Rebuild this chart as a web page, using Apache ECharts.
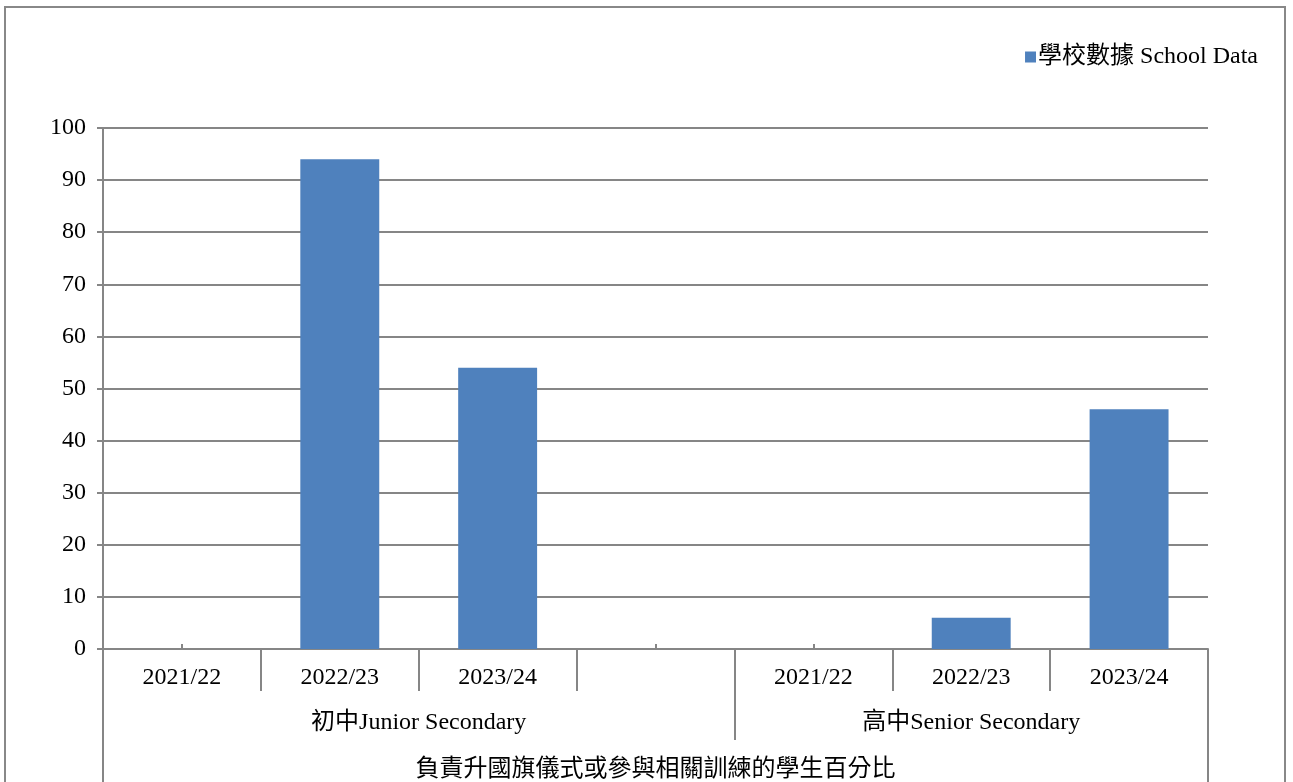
<!DOCTYPE html>
<html>
<head>
<meta charset="utf-8">
<script src="https://cdn.jsdelivr.net/npm/echarts@6/dist/echarts.min.js"></script>
<style>
  html, body { margin: 0; padding: 0; background: #fff; }
  #frame { position: absolute; left: 4px; top: 6px; width: 1282px; height: 800px; border: 2px solid #888; box-sizing: border-box; }
  #chart { position: absolute; left: 0; top: 0; width: 1293px; height: 782px; }
</style>
</head>
<body>
<div id="frame"></div>
<div id="chart"></div>
<script>
const categories = ['2021/22', '2022/23', '2023/24', '', '2021/22', '2022/23', '2023/24'];
const schoolData = [0, 94, 54, null, 0, 6, 46];
const groupLabels = ['初中Junior Secondary', '高中Senior Secondary'];
const groupSizes = [4, 3];
const axisTitle = '負責升國旗儀式或參與相關訓練的學生百分比';
const seriesName = '學校數據 School Data';
const yTicks = [0, 10, 20, 30, 40, 50, 60, 70, 80, 90, 100];

const n = categories.length;
const groupEdges = [0];
groupSizes.forEach(s => groupEdges.push(groupEdges[groupEdges.length - 1] + s));
const groupCenters = groupSizes.map((s, i) => groupEdges[i] + s / 2);
const innerEdges = [];
for (let i = 1; i < n; i++) if (groupEdges.indexOf(i) < 0) innerEdges.push(i);
const midGroupEdges = groupEdges.slice(1, -1);

const FONT = "'Liberation Serif', 'Noto Sans CJK TC', serif";
const GRAY = '#868686';
const txt = { color: '#000', fontFamily: FONT, fontSize: 24 };

const chart = echarts.init(document.getElementById('chart'), null, { renderer: 'canvas' });
chart.setOption({
  backgroundColor: 'transparent',
  animation: false,
  legend: {
    right: 30, top: 40,
    icon: 'rect', itemWidth: 11, itemHeight: 11, itemGap: 10,
    textStyle: Object.assign({}, txt, { padding: [0, 0, 0, -3] }),
    data: [seriesName]
  },
  grid: { left: 103, right: 85, top: 128, bottom: 133, containLabel: false },
  xAxis: [
    {
      type: 'category', data: categories, position: 'bottom',
      axisLine: { show: true, lineStyle: { color: GRAY, width: 2 } },
      axisTick: { show: true, alignWithLabel: true, inside: true, length: 5, lineStyle: { color: GRAY, width: 2 } },
      axisLabel: Object.assign({}, txt, { margin: 17, interval: 0 }),
      splitLine: { show: false }
    },
    {
      type: 'value', min: 0, max: n, position: 'bottom',
      axisLine: { show: false },
      axisTick: { show: true, customValues: innerEdges, length: 42, lineStyle: { color: GRAY, width: 2 } },
      axisLabel: { show: false }, splitLine: { show: false }
    },
    {
      type: 'value', min: 0, max: n, position: 'bottom',
      axisLine: { show: false },
      axisTick: { show: true, customValues: midGroupEdges, length: 91, lineStyle: { color: GRAY, width: 2 } },
      axisLabel: Object.assign({}, txt, {
        show: true, margin: 62, customValues: groupCenters,
        formatter: v => { const i = groupCenters.indexOf(v); return i >= 0 ? groupLabels[i] : ''; }
      }),
      splitLine: { show: false }
    },
    {
      type: 'value', min: 0, max: n, position: 'bottom',
      axisLine: { show: false },
      axisTick: { show: true, customValues: [0, n], length: 150, lineStyle: { color: GRAY, width: 2 } },
      axisLabel: Object.assign({}, txt, {
        show: true, margin: 109, customValues: [n / 2],
        formatter: () => axisTitle
      }),
      splitLine: { show: false }
    }
  ],
  yAxis: {
    type: 'value', min: yTicks[0], max: yTicks[yTicks.length - 1], interval: yTicks[1] - yTicks[0],
    axisLine: { show: true, lineStyle: { color: GRAY, width: 2 } },
    axisTick: { show: true, length: 6, lineStyle: { color: GRAY, width: 2 } },
    axisLabel: Object.assign({}, txt, { margin: 17 }),
    splitLine: { show: true, lineStyle: { color: GRAY, width: 2 } }
  },
  series: [{
    name: seriesName, type: 'bar', xAxisIndex: 0, yAxisIndex: 0,
    data: schoolData, barCategoryGap: '50%',
    itemStyle: { color: '#4f81bd' }
  }]
});
</script>
</body>
</html>
